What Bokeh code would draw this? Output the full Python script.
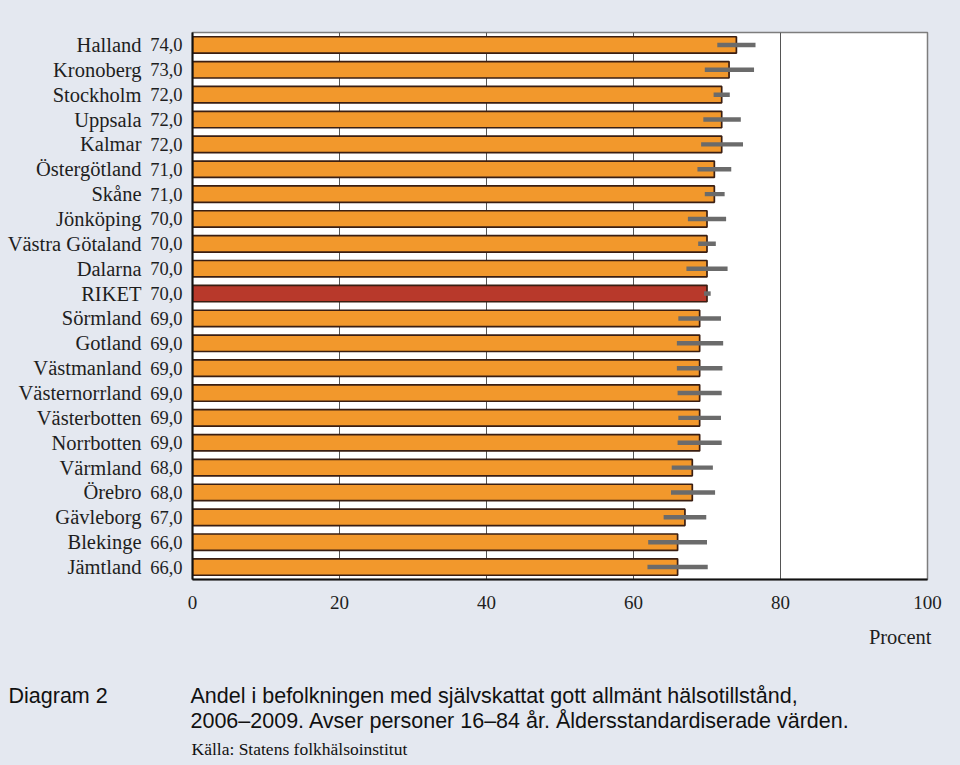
from bokeh.plotting import figure
from bokeh.models import (ColumnDataSource, LinearAxis, Range1d, FixedTicker)
from bokeh.layouts import column
from bokeh.core.properties import value
from bokeh.embed import file_html
from bokeh.resources import INLINE

regions = ["Halland", "Kronoberg", "Stockholm", "Uppsala", "Kalmar", "Östergötland",
           "Skåne", "Jönköping", "Västra Götaland", "Dalarna", "RIKET", "Sörmland",
           "Gotland", "Västmanland", "Västernorrland", "Västerbotten", "Norrbotten",
           "Värmland", "Örebro", "Gävleborg", "Blekinge", "Jämtland"]
values = [74, 73, 72, 72, 72, 71, 71, 70, 70, 70, 70, 69, 69, 69, 69, 69, 69,
          68, 68, 67, 66, 66]
ci_low = [71.4, 69.7, 70.9, 69.5, 69.2, 68.7, 69.7, 67.4, 68.8, 67.2, 69.6, 66.1,
          65.9, 65.9, 66.0, 66.1, 66.0, 65.2, 65.1, 64.1, 62.0, 61.9]
ci_high = [76.6, 76.4, 73.1, 74.6, 74.9, 73.3, 72.4, 72.6, 71.2, 72.8, 70.5, 71.9,
           72.2, 72.1, 72.0, 71.9, 72.0, 70.8, 71.1, 69.9, 70.0, 70.1]
x_ticks = [0, 20, 40, 60, 80, 100]
highlight = "RIKET"
x_title = "Procent"
diagram_label = "Diagram 2"
caption_lines = ["Andel i befolkningen med självskattat gott allmänt hälsotillstånd,",
                 "2006–2009. Avser personer 16–84 år. Åldersstandardiserade värden."]
source_note = "Källa: Statens folkhälsoinstitut"

BG = "#E4E8F0"
ORANGE = "#F2982C"
RED = "#B8392B"
EDGE = "#3A1E12"
SERIF = "Liberation Serif"
SANS = "Liberation Sans"
TXT = "#1E1E1E"

n = len(regions)
ypos = [float(n - 1 - i) for i in range(n)]
colors = [RED if r == highlight else ORANGE for r in regions]
src = ColumnDataSource(dict(y=ypos, value=values, lo=ci_low, hi=ci_high, color=colors))

W = 960
H_MAIN = 620
p = figure(width=W, height=H_MAIN, output_backend="svg", toolbar_location=None,
           x_range=Range1d(0, 100), y_range=Range1d(-0.5, n - 0.5),
           y_axis_location=None,
           min_border_left=192, min_border_right=33, min_border_top=32,
           min_border_bottom=H_MAIN - 579)
p.background_fill_color = "white"
p.border_fill_color = BG
p.outline_line_color = "#7d7d7d"
p.outline_line_width = 1.5

p.xgrid.ticker = FixedTicker(ticks=x_ticks)
p.xgrid.grid_line_color = "#555555"
p.xgrid.grid_line_width = 1
p.ygrid.grid_line_color = None

p.hbar(y="y", left=0, right="value", height=0.66, source=src,
       fill_color="color", line_color=EDGE, line_width=1.7)
p.hbar(y="y", left="lo", right="hi", height=0.18, source=src,
       fill_color="#6B6B6B", line_color=None)

xa = p.xaxis[0]
xa.ticker = FixedTicker(ticks=x_ticks)
xa.major_tick_line_color = None
xa.minor_tick_line_color = None
xa.axis_line_color = "#111111"
xa.axis_line_width = 2
xa.major_label_text_font = SERIF
xa.major_label_text_font_size = "19px"
xa.major_label_text_color = TXT
xa.major_label_standoff = 10

# inner y axis: values
va = LinearAxis(ticker=FixedTicker(ticks=ypos),
                major_label_overrides={y: f"{v:.1f}".replace(".", ",")
                                       for y, v in zip(ypos, values)})
va.major_tick_line_color = None
va.minor_tick_line_color = None
va.axis_line_color = "#111111"
va.axis_line_width = 2
va.major_label_text_font = SERIF
va.major_label_text_font_size = "18.5px"
va.major_label_text_color = TXT
va.major_label_standoff = 4
p.add_layout(va, "left")

# outer y axis: region names
na = LinearAxis(ticker=FixedTicker(ticks=ypos),
                major_label_overrides={y: r for y, r in zip(ypos, regions)})
na.major_tick_line_color = None
na.minor_tick_line_color = None
na.axis_line_color = None
na.major_label_text_font = SERIF
na.major_label_text_font_size = "20.5px"
na.major_label_text_color = TXT
na.major_label_standoff = 0
p.add_layout(na, "left")

# caption strip below the chart
H_CAP = 765 - H_MAIN
c = figure(width=W, height=H_CAP, output_backend="svg", toolbar_location=None,
           x_range=Range1d(0, W), y_range=Range1d(H_CAP, 0),
           x_axis_location=None, y_axis_location=None,
           min_border=0)
c.background_fill_color = BG
c.border_fill_color = BG
c.outline_line_color = None
c.grid.visible = False
for fig in (p, c):
    try:
        fig.frame_align = False
    except AttributeError:
        pass

c.text(x=[931], y=[636 - H_MAIN], text=[x_title], text_align="right",
       text_baseline="alphabetic", text_font=value(SERIF), text_font_size="20.5px",
       text_color=TXT)
c.text(x=[8], y=[695 - H_MAIN], text=[diagram_label], text_align="left",
       text_baseline="alphabetic", text_font=value(SANS), text_font_size="21.5px",
       text_color="#111111")
c.text(x=[190, 190], y=[695 - H_MAIN, 720 - H_MAIN], text=caption_lines,
       text_align="left", text_baseline="alphabetic", text_font=value(SANS),
       text_font_size="21.5px", text_color="#111111")
c.text(x=[191], y=[748 - H_MAIN], text=[source_note], text_align="left",
       text_baseline="alphabetic", text_font=value(SERIF), text_font_size="17.5px",
       text_color="#111111")

layout = column(p, c, spacing=0)
html = file_html(layout, INLINE)
html = html.replace("</head>",
                    f"<style>html, body {{ background: {BG} !important; }}</style></head>", 1)
open("out.html", "w").write(html)
